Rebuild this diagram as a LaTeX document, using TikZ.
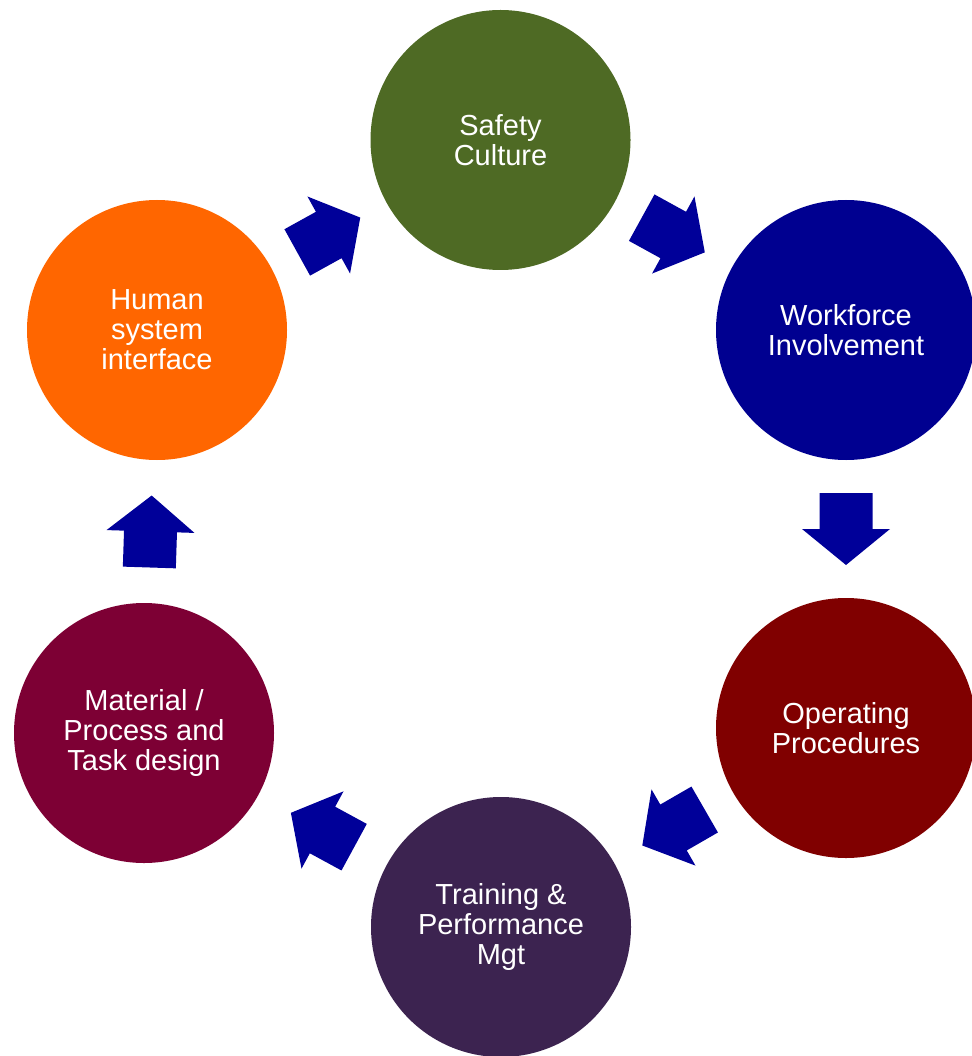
\documentclass[tikz,border=0pt]{standalone}
\usepackage{fontspec}
\setmainfont{Liberation Sans}
\definecolor{cSafety}{HTML}{4E6A24}
\definecolor{cWork}{HTML}{000090}
\definecolor{cOper}{HTML}{800000}
\definecolor{cTrain}{HTML}{3C2350}
\definecolor{cMat}{HTML}{7D0034}
\definecolor{cHuman}{HTML}{FF6600}
\definecolor{cArrow}{HTML}{000099}
\tikzset{
  stage/.style={circle, fill=#1, draw=none, minimum size=260pt, inner sep=0pt,
    text=white, align=center, font=\fontsize{29}{30}\selectfont},
  blockarrow/.pic={
    \fill[cArrow] (-36,-26.5) -- (0,-26.5) -- (0,-44) -- (36,0) -- (0,44) -- (0,26.5) -- (-36,26.5) -- cycle;
  },
  onpath/.style={pos=0.5, sloped, allow upside down}
}
\begin{document}
\begin{tikzpicture}[x=1pt,y=-1pt]
\useasboundingbox (0,0) rectangle (971,1056);
\node[stage=cSafety] (safety) at (500.5,140) {Safety\\Culture};
\node[stage=cWork]   (work)   at (846,330)   {Workforce\\Involvement};
\node[stage=cOper]   (oper)   at (846,728)   {Operating\\Procedures};
\node[stage=cTrain]  (train)  at (501,927)   {Training \&\\Performance\\Mgt};
\node[stage=cMat]    (mat)    at (144,733)   {Material /\\Process and\\Task design};
\node[stage=cHuman]  (human)  at (157,330)   {Human\\system\\interface};
\path (human.center)  -- (safety.center) pic[onpath] {blockarrow};
\path (safety.center) -- (work.center)   pic[onpath] {blockarrow};
\path (work.center)   -- (oper.center)   pic[onpath] {blockarrow};
\path (oper.center)   -- (train.center)  pic[onpath] {blockarrow};
\path (train.center)  -- (mat.center)    pic[onpath] {blockarrow};
\path (mat.center)    -- (human.center)  pic[onpath] {blockarrow};
\end{tikzpicture}
\end{document}
